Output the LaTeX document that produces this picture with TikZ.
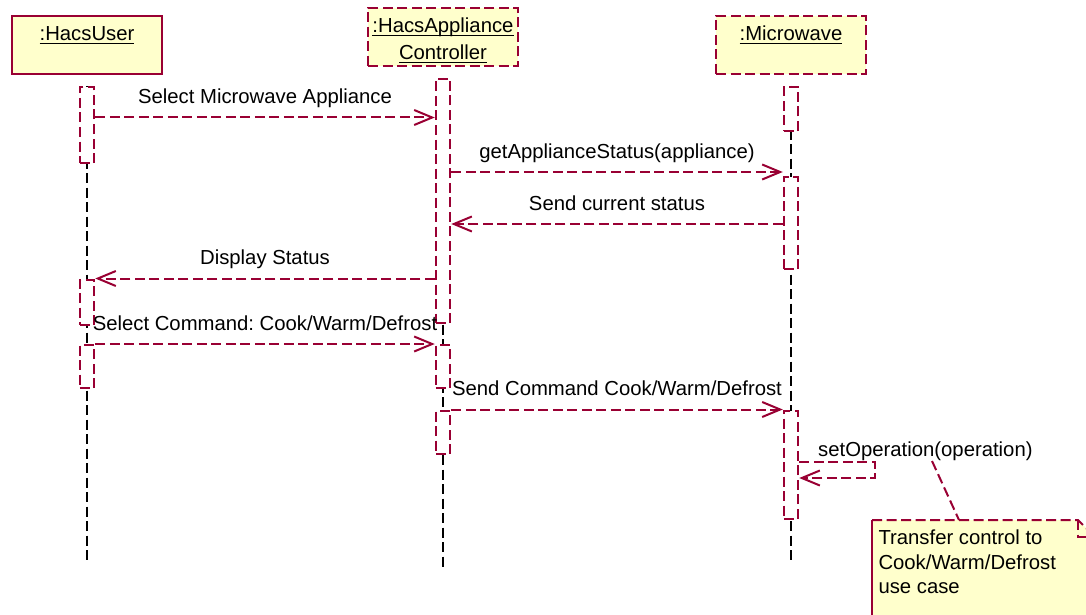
\documentclass[tikz,border=0pt]{standalone}
\usepackage{fontspec}
\setmainfont{Liberation Sans}
\usetikzlibrary{arrows.meta,positioning}
\definecolor{LineClr}{rgb}{0.6,0,0.2}
\definecolor{BoxClr}{rgb}{1,1,0.8}
\newcommand{\uname}[1]{\setbox0=\hbox{#1}\leavevmode\rlap{\rule[-4pt]{\wd0}{1.5pt}}\box0}
\frenchspacing

\tikzset{
  obj/.style={draw=LineClr,fill=BoxClr,line width=2pt,minimum width=150pt,minimum height=58pt,
    inner sep=0pt,align=center,text height=47pt,text depth=2.6pt,font=\fontsize{20.3}{27}\selectfont},
  objdash/.style={obj,dash pattern=on 10pt off 4.5pt},
  actbar/.style={draw=LineClr,fill=white,line width=2pt,dash pattern=on 10pt off 4.5pt,
    minimum width=14.5pt,inner sep=0pt,anchor=north},
  lifeline/.style={draw=black,line width=2pt,dash pattern=on 10pt off 4.5pt},
  msg/.style={draw=LineClr,line width=2pt,dash pattern=on 10pt off 4.5pt,
    -{Straight Barb[length=18pt,width=15pt]}},
  msglbl/.style={anchor=base,yshift=14pt,inner sep=0pt,font=\fontsize{20.3}{24}\selectfont},
}

\begin{document}
\begin{tikzpicture}[x=1pt,y=-1pt]
\useasboundingbox (0,0) rectangle (1086,615);
\clip (0,0) rectangle (1086,615);

\node[obj] (user) at (87,45) {\uname{:HacsUser}\\ };
\node[objdash] (ctrl) at (443,37) {\uname{:HacsAppliance}\\\uname{Controller}};
\node[objdash] (mw) at (791,45) {\uname{:Microwave}\\ };

\coordinate (uend) at (87,563);
\coordinate (cend) at (443,567);
\coordinate (mend) at (791,563);

\draw[lifeline] (87,86) -- (uend);
\draw[lifeline] (443,78) -- (cend);
\draw[lifeline] (791,86) -- (mend);

\node[actbar,minimum height=76pt] (u1) at (87,86) {};
\node[actbar,minimum height=45pt] (u2) at (87,279) {};
\node[actbar,minimum height=43pt] (u3) at (87,344) {};
\node[actbar,minimum height=244pt] (c1) at (443,78) {};
\node[actbar,minimum height=43pt] (c2) at (443,344) {};
\node[actbar,minimum height=43pt] (c3) at (443,410) {};
\node[actbar,minimum height=44pt] (m1) at (791,86) {};
\node[actbar,minimum height=92pt] (m2) at (791,176) {};
\node[actbar,minimum height=108pt] (m3) at (791,409.5) {};

\coordinate (r1) at (0,117.5);
\coordinate (r2) at (0,172);
\coordinate (r3) at (0,224);
\coordinate (r4) at (0,278.5);
\coordinate (r5) at (0,344);
\coordinate (r6) at (0,409.5);
\coordinate (r7) at (0,462);
\coordinate (r8) at (0,478);

\draw[msg] (u1.east|-r1) -- (c1.west|-r1) node[msglbl,midway] {Select Microwave Appliance};
\draw[msg] (c1.east|-r2) -- (m2.west|-r2) node[msglbl,midway] {getApplianceStatus(appliance)};
\draw[msg] (m2.west|-r3) -- (c1.east|-r3) node[msglbl,midway] {Send current status};
\draw[msg] (c1.west|-r4) -- (u2.east|-r4) node[msglbl,midway] {Display Status};
\draw[msg] (u3.east|-r5) -- (c2.west|-r5) node[msglbl,midway] {Select Command: Cook/Warm/Defrost};
\draw[msg] (c3.east|-r6) -- (m3.west|-r6) node[msglbl,midway] {Send Command Cook/Warm/Defrost};
\draw[msg] (m3.east|-r7) -- ++(76,0) -- ++(0,16) -- (m3.east|-r8);
\node[msglbl,anchor=base west,yshift=-14pt] (setop) at (818,456) {setOperation(operation)};

\fill[BoxClr] (872,520) -- (1078,520) -- (1096,538) -- (1096,640) -- (872,640) -- cycle;
\draw[LineClr,line width=2pt,dash pattern=on 10pt off 4.5pt] (872,520) -- (1078,520) -- (1096,538);
\draw[LineClr,line width=2pt,dash pattern=on 10pt off 4.5pt] (1078,520) -- (1078,537) -- (1096,537);
\draw[LineClr,line width=2pt] (872,520) -- (872,640);
\node[anchor=north west,align=left,inner sep=0pt,font=\fontsize{20.3}{24.2}\selectfont] (note) at (878.3,530)
  {Transfer control to\\Cook/Warm/Defrost\\use case};

\coordinate (lk) at (932,461);
\coordinate (nk) at (959,520);
\draw[LineClr,line width=2pt,dash pattern=on 10pt off 4.5pt] (lk) -- (nk);

\end{tikzpicture}
\end{document}
